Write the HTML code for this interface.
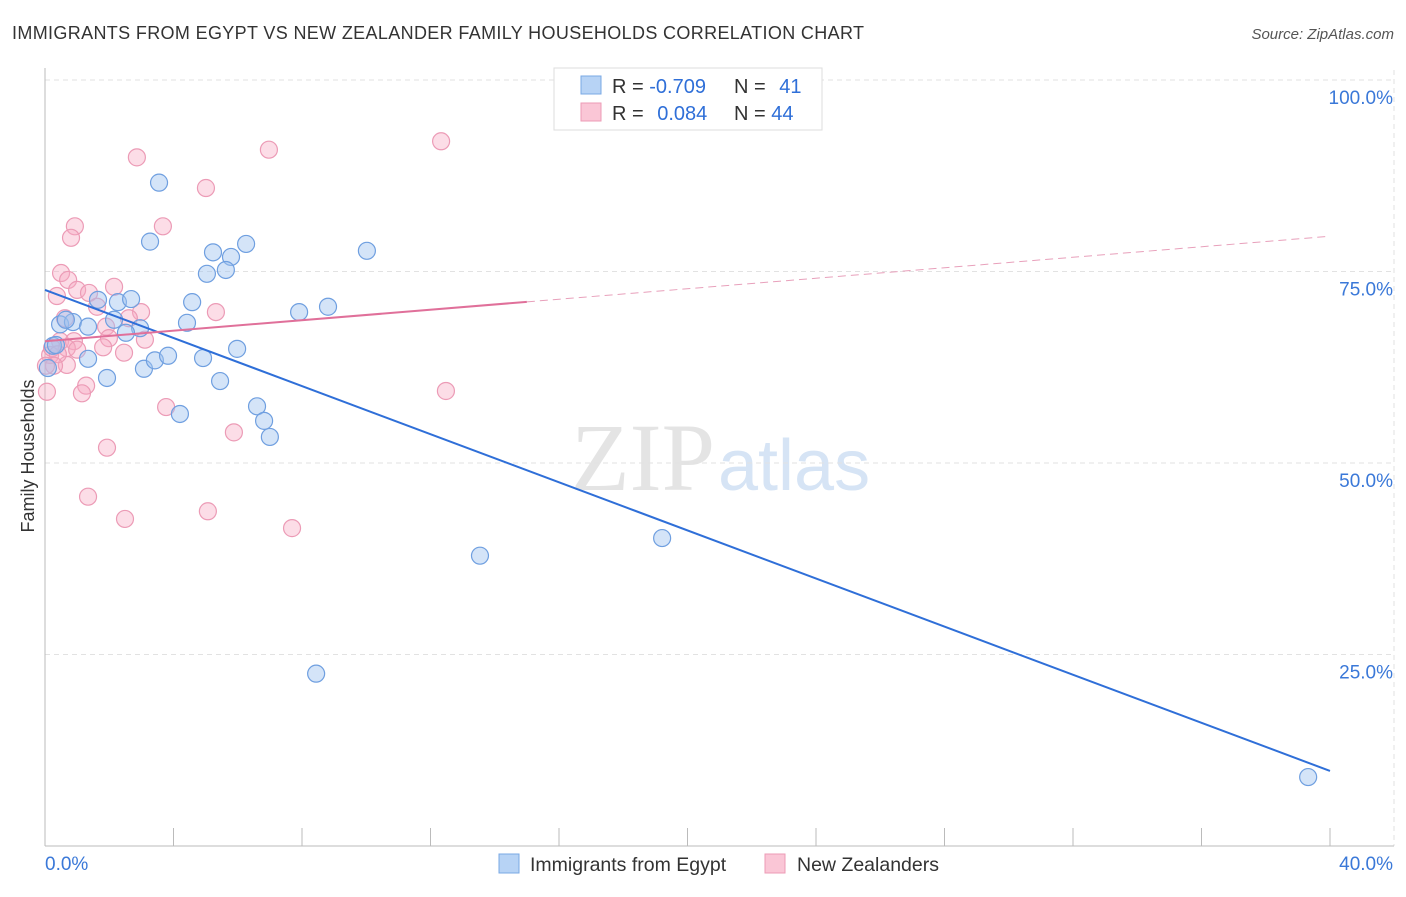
<!DOCTYPE html>
<html><head><meta charset="utf-8"><style>
body{margin:0;background:#fff;font-family:"Liberation Sans",sans-serif}
</style></head><body>
<svg id="c" width="1406" height="892" xmlns="http://www.w3.org/2000/svg">
<text x="12" y="39" font-size="18" letter-spacing="0.35" fill="#333">IMMIGRANTS FROM EGYPT VS NEW ZEALANDER FAMILY HOUSEHOLDS CORRELATION CHART</text>
<text x="1394" y="39" font-size="15" fill="#555" font-style="italic" text-anchor="end">Source: ZipAtlas.com</text>
<text x="715" y="490" font-size="96" fill="#e4e4e4" font-family="Liberation Serif" text-anchor="end">ZIP</text>
<text x="718" y="490" font-size="72" fill="#d6e4f5">atlas</text>
<g id="grid"></g><g id="axes"></g><g id="pts"></g><g id="lines"></g>
<text transform="translate(34,456) rotate(-90)" font-size="18" fill="#333" text-anchor="middle">Family Households</text>
<g>
<rect x="554" y="68" width="268" height="62" fill="#fff" stroke="#ddd"/>
<rect x="581" y="76" width="20" height="18" fill="#b7d3f5" stroke="#7aa8e4"/>
<rect x="581" y="103" width="20" height="18" fill="#fac6d6" stroke="#ec9bb6"/>
<text x="612" y="93" font-size="20" fill="#333">R = <tspan fill="#2f6fd8">-0.709</tspan></text>
<text x="734" y="93" font-size="20" fill="#333">N = <tspan fill="#2f6fd8" dx="8">41</tspan></text>
<text x="612" y="120" font-size="20" fill="#333">R = <tspan fill="#2f6fd8" dx="8">0.084</tspan></text>
<text x="734" y="120" font-size="20" fill="#333">N = <tspan fill="#2f6fd8">44</tspan></text>
</g>
<g>
<rect x="499" y="854" width="20" height="19" fill="#b7d3f5" stroke="#7aa8e4"/>
<text x="530" y="871" font-size="19.5" fill="#333">Immigrants from Egypt</text>
<rect x="765" y="854" width="20" height="19" fill="#fac6d6" stroke="#ec9bb6"/>
<text x="797" y="871" font-size="19.5" fill="#333">New Zealanders</text>
</g>
</svg>
<script>
const blueX=[3.55,3.27,5.23,5.79,6.26,5.04,5.63,10.02,1.65,2.27,2.68,4.58,7.91,8.81,0.47,0.87,1.34,2.15,2.96,2.52,4.42,0.25,1.34,0.09,1.93,3.08,3.42,3.83,4.92,5.98,5.45,4.20,6.60,6.82,7.00,13.54,19.21,8.44,39.32,0.34,0.65];
const blueY=[86.6,78.9,77.5,76.9,78.6,74.7,75.2,77.7,71.3,71.0,71.4,71.0,69.7,70.4,68.1,68.4,67.8,68.7,67.6,67.0,68.3,65.3,63.6,62.4,61.1,62.3,63.4,64.0,63.7,64.9,60.7,56.4,57.4,55.5,53.4,37.9,40.2,22.5,9.0,65.4,68.7];
const pinkX=[12.33,6.97,2.86,5.01,0.93,3.67,0.81,0.50,0.72,0.37,1.00,1.37,2.15,1.62,2.99,0.62,2.61,5.32,1.90,1.99,3.11,0.47,0.90,1.81,2.46,0.16,0.68,1.00,0.68,1.28,1.15,0.06,3.77,12.48,5.88,1.93,1.34,5.07,2.49,7.69,0.22,0.40,0.28,0.03];
const pinkY=[92.0,90.9,89.9,85.9,80.9,80.9,79.4,74.8,73.9,71.8,72.6,72.2,73.0,70.4,69.7,68.9,68.9,69.7,67.8,66.3,66.1,65.9,65.9,65.1,64.4,64.1,65.0,64.8,62.8,60.1,59.1,59.3,57.3,59.4,54.0,52.0,45.6,43.7,42.7,41.5,65.0,64.2,62.7,62.7];
const blueTrend=[72.6,9.8];
const pinkTrend=[65.9,79.6];
const yTicks=[25,50,75,100];
const yTickLabels=["25.0%","50.0%","75.0%","100.0%"];
const xTickCount=10;
const NS="http://www.w3.org/2000/svg";
const X=v=>45+v/40*1285, Y=v=>846-v*7.66;
function mk(tag,attrs,parent){const e=document.createElementNS(NS,tag);for(const k in attrs)e.setAttribute(k,attrs[k]);document.getElementById(parent).appendChild(e);return e;}
yTicks.forEach((t,i)=>{
 const g=mk('line',{x1:45,x2:1394,y1:Y(t),y2:Y(t),stroke:'#e2e2e2','stroke-dasharray':'5,4'},'grid');
 
 
 const l=mk('text',{x:1393,y:Y(t)+24,'font-size':19,fill:'#3a78d8','text-anchor':'end'},'axes');l.textContent=yTickLabels[i];
 
 
});
const ln=mk('line',{x1:1394,x2:1394,y1:70,y2:846,stroke:'#e2e2e2','stroke-dasharray':'5,4'},'grid');


const ya=mk('line',{x1:45,x2:45,y1:68,y2:846,stroke:'#bbb'},'axes');


const xa=mk('line',{x1:45,x2:1394,y1:846,y2:846,stroke:'#bbb'},'axes');


for(let i=0;i<=xTickCount;i++){const x=X(40*i/xTickCount);
 const t=mk('line',{x1:x,x2:x,y1:828,y2:846,stroke:'#bbb'},'axes');
 
 }
const x0=mk('text',{x:45,y:870,'font-size':19,fill:'#3a78d8'},'axes');x0.textContent='0.0%';


const x1=mk('text',{x:1393,y:870,'font-size':19,fill:'#3a78d8','text-anchor':'end'},'axes');x1.textContent='40.0%';


pinkX.forEach((v,i)=>{const c=mk('circle',{cx:X(v),cy:Y(pinkY[i]),r:8.5,fill:'rgba(247,170,195,0.4)',stroke:'#ec9bb6','stroke-width':1.2},'pts');
 
 });
blueX.forEach((v,i)=>{const c=mk('circle',{cx:X(v),cy:Y(blueY[i]),r:8.5,fill:'rgba(160,196,240,0.45)',stroke:'#6f9fe0','stroke-width':1.2},'pts');
 
 });
const bl=mk('line',{x1:X(0),y1:Y(blueTrend[0]),x2:X(40),y2:Y(blueTrend[1]),stroke:'#2f6fd8','stroke-width':2},'lines');


const pm=pinkTrend[0]+(pinkTrend[1]-pinkTrend[0])*15/40;
const ps=mk('line',{x1:X(0),y1:Y(pinkTrend[0]),x2:X(15),y2:Y(pm),stroke:'#e0709a','stroke-width':2},'lines');


const pd=mk('line',{x1:X(15),y1:Y(pm),x2:X(40),y2:Y(pinkTrend[1]),stroke:'#e8a0bb','stroke-width':1,'stroke-dasharray':'8,5'},'lines');


</script>
</body></html>
